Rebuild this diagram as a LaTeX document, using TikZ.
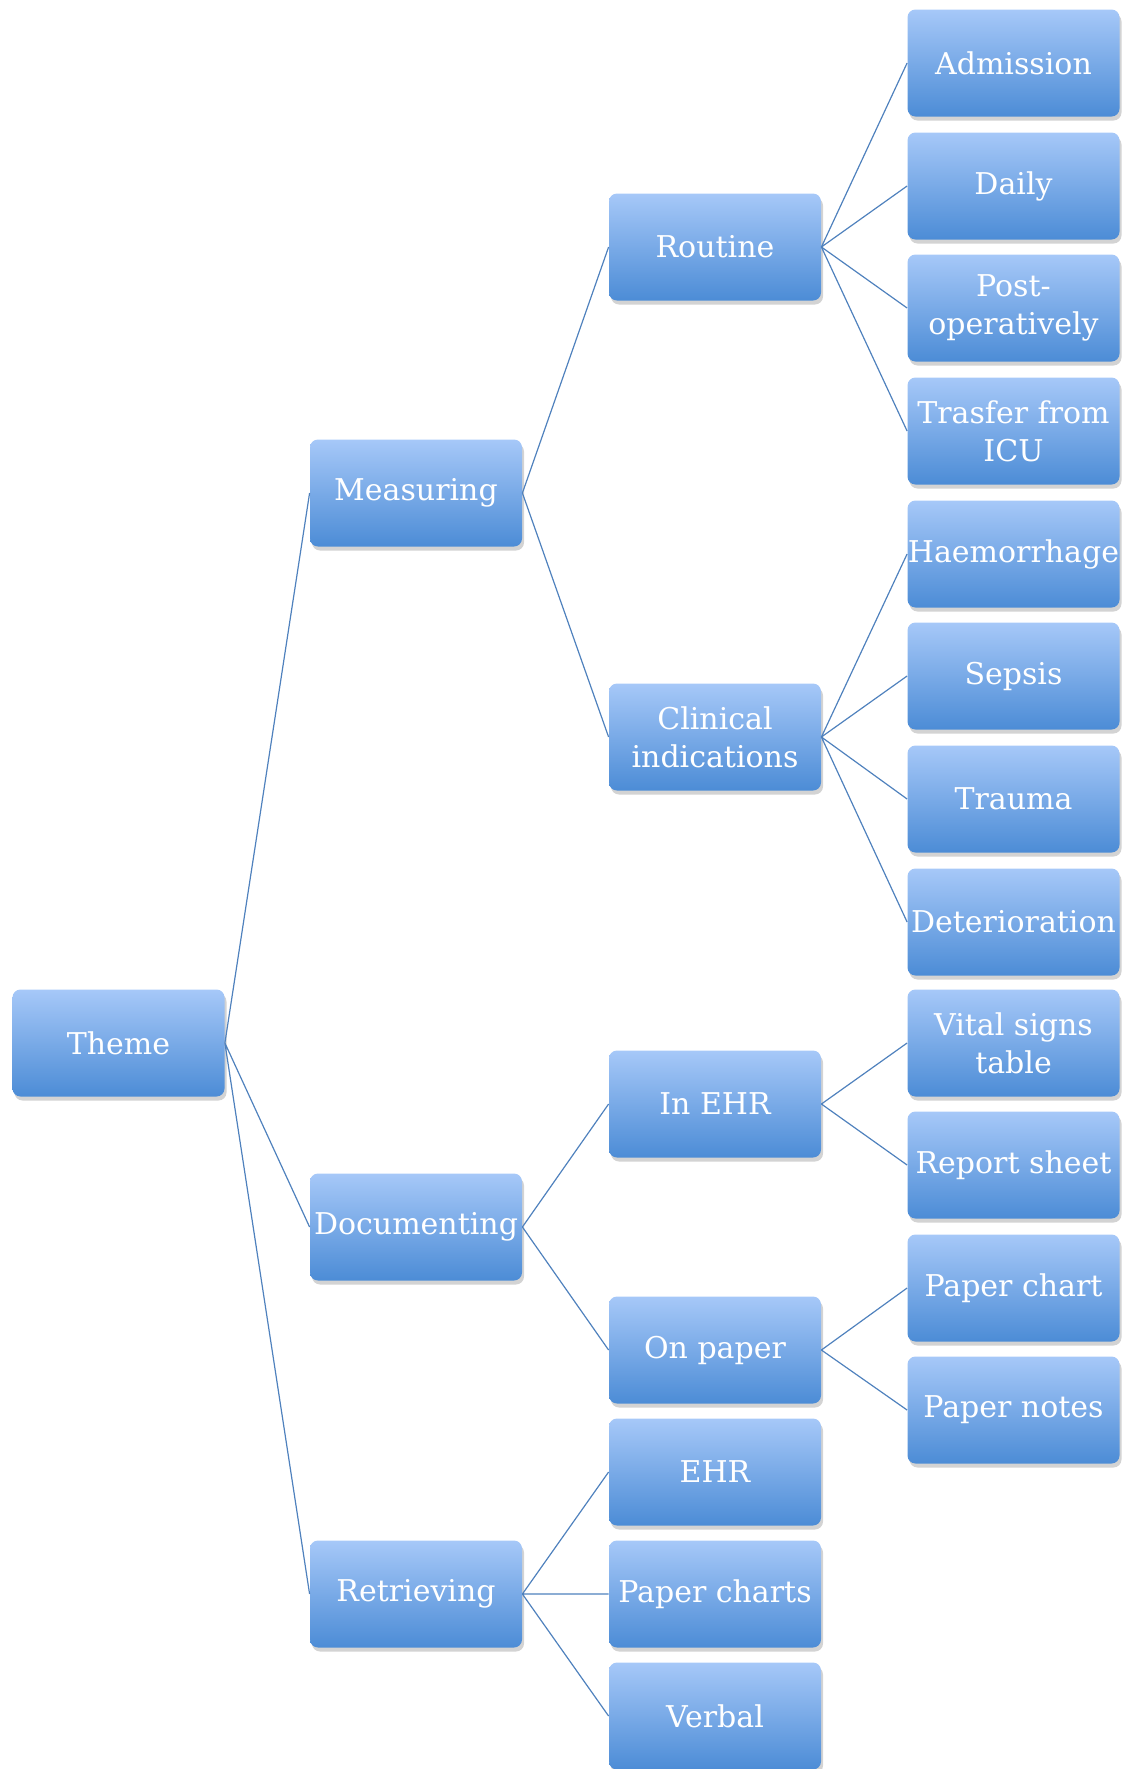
\documentclass[tikz,border=0pt]{standalone}
\usepackage{fontspec}
\setmainfont{DejaVu Serif}
\usetikzlibrary{shadows}
\definecolor{boxtop}{RGB}{166,200,248}
\definecolor{boxbot}{RGB}{76,140,214}
\definecolor{linkblue}{RGB}{79,129,189}
\tikzset{
	theme/.style={rectangle, rounded corners=4pt, top color=boxtop, bottom color=boxbot,
		draw=none, text=white, minimum width=106pt, minimum height=53.5pt,
		inner xsep=0pt, align=center, font=\fontsize{15}{19}\selectfont,
		drop shadow={shadow xshift=1pt, shadow yshift=-2pt, opacity=0.35}},
	link/.style={draw=linkblue, line width=0.6pt}
}
\begin{document}
\begin{tikzpicture}[x=0.5pt, y=-0.5pt]
			\useasboundingbox (0,0) rectangle (1127,1769);
			% first and second level
			\node[theme] (T) at (118.5,1043) {Theme};
			\node[theme] (M) at (416,493) {Measuring};
			\node[theme] (D) at (416,1227) {Documenting};
			\node[theme] (R) at (416,1594) {Retrieving};
			% third level
			\node[theme] (Ro) at (715,247) {Routine};
			\node[theme] (Ci) at (715,737) {Clinical\\indications};
			\node[theme] (IE) at (715,1104) {In EHR};
			\node[theme] (OP) at (715,1350) {On paper};
			\node[theme] (RE) at (715,1472) {EHR};
			\node[theme] (RP) at (715,1594) {Paper charts};
			\node[theme] (RV) at (715,1716) {Verbal};
			% fourth level
			\node[theme] (Ad) at (1013.5,63) {Admission};
			\node[theme] (Da) at (1013.5,186) {Daily};
			\node[theme] (Po) at (1013.5,308) {Post-\\operatively};
			\node[theme] (Tr) at (1013.5,431) {Trasfer from\\ICU};
			\node[theme] (Ha) at (1013.5,554) {Haemorrhage};
			\node[theme] (Se) at (1013.5,676) {Sepsis};
			\node[theme] (Tu) at (1013.5,799) {Trauma};
			\node[theme] (De) at (1013.5,922) {Deterioration};
			\node[theme] (Vi) at (1013.5,1043) {Vital signs\\table};
			\node[theme] (Rs) at (1013.5,1165) {Report sheet};
			\node[theme] (Pc) at (1013.5,1288) {Paper chart};
			\node[theme] (Pn) at (1013.5,1410) {Paper notes};
			\draw[link] (T.east)--(M.west) (T.east)--(D.west) (T.east)--(R.west);
			\draw[link] (M.east)--(Ro.west) (M.east)--(Ci.west);
			\draw[link] (D.east)--(IE.west) (D.east)--(OP.west);
			\draw[link] (R.east)--(RE.west) (R.east)--(RP.west) (R.east)--(RV.west);
			\draw[link] (Ro.east)--(Ad.west) (Ro.east)--(Da.west) (Ro.east)--(Po.west) (Ro.east)--(Tr.west);
			\draw[link] (Ci.east)--(Ha.west) (Ci.east)--(Se.west) (Ci.east)--(Tu.west) (Ci.east)--(De.west);
			\draw[link] (IE.east)--(Vi.west) (IE.east)--(Rs.west);
			\draw[link] (OP.east)--(Pc.west) (OP.east)--(Pn.west);
		\end{tikzpicture}
\end{document}
